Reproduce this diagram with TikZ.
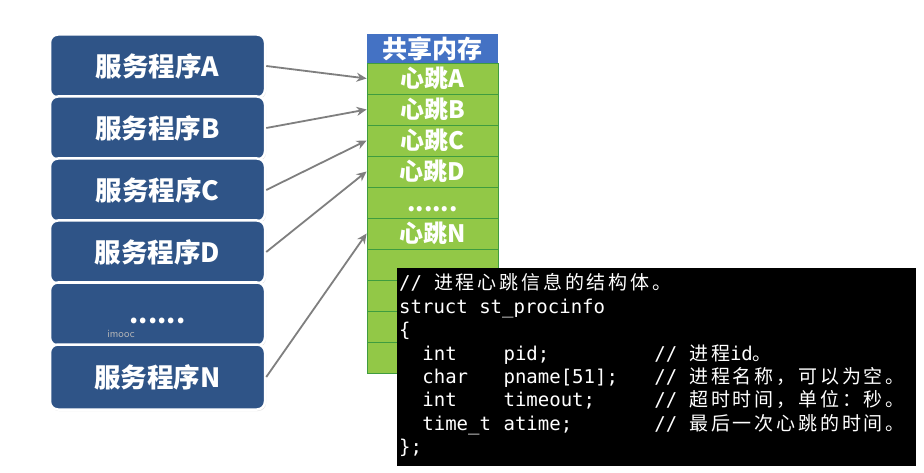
\documentclass[tikz,border=0pt]{standalone}
\usepackage{fontspec}
\usetikzlibrary{arrows.meta,shadows}
\newfontfamily\cjk{Noto Sans CJK SC}
\newfontfamily\cjkc[LetterSpace=15]{Noto Sans CJK SC}
\newfontfamily\mono{DejaVu Sans Mono}
\definecolor{boxblue}{HTML}{2F5487}
\definecolor{headblue}{HTML}{4472C4}
\definecolor{cellgreen}{HTML}{92C847}
\definecolor{cellline}{HTML}{3F9C3F}
\definecolor{arrgray}{HTML}{7F7F7F}
\newlength\cw \setlength\cw{11.6pt}
\newcommand\tok[2]{\makebox[#1\cw][l]{#2}}
\newcommand\cz[1]{{\cjkc #1}}
\begin{document}
\begin{tikzpicture}[x=1pt,y=-1pt,
  svc/.style={draw=white, line width=2.5pt, fill=boxblue, rounded corners=8pt,
    minimum width=215pt, minimum height=63pt, inner sep=0pt, text=white,
    font=\cjk\bfseries\fontsize{26.5}{30}\selectfont,
    drop shadow={shadow xshift=1pt, shadow yshift=-1.5pt, opacity=0.25}},
  cell/.style={draw=cellline, line width=0.8pt, fill=cellgreen, minimum width=131pt,
    minimum height=31pt, inner sep=0pt, text=white,
    font=\cjk\bfseries\fontsize{24}{26}\selectfont},
  head/.style={fill=headblue, minimum width=131pt, minimum height=29pt, inner sep=0pt,
    text=white, font=\cjk\bfseries\fontsize{25}{27}\selectfont},
  arr/.style={draw=arrgray, line width=1.8pt, -{Stealth[length=10pt,width=9pt]}},
  code/.style={anchor=base west, inner sep=0pt, text=white,
    font=\mono\fontsize{19}{21}\selectfont}
]
\useasboundingbox (0,0) rectangle (924,473);
\fill[white] (0,0) rectangle (924,473);

% service boxes
\node[svc] (sa) at (157.5,66) {服务程序A};
\node[svc] (sb) at (157.5,128) {服务程序B};
\node[svc] (sc) at (157.5,190) {服务程序C};
\node[svc] (sd) at (157.5,252) {服务程序D};
\node[svc] (se) at (157.5,314) {\vphantom{服}......};
\node[svc, minimum height=65pt] (sn) at (157.5,377) {服务程序N};
\node[text=gray!55, font=\fontsize{11}{12}\sffamily\selectfont, inner sep=0pt] (wm) at (121,334) {imooc};

% shared memory
\node[head] (mh) at (432.5,48.5) {共享内存};
\node[cell] (m1) at (432.5,78.5) {心跳A};
\node[cell] (m2) at (432.5,109.5) {心跳B};
\node[cell] (m3) at (432.5,140.5) {心跳C};
\node[cell] (m4) at (432.5,171.5) {心跳D};
\node[cell] (m5) at (432.5,202.5) {\vphantom{心}......};
\node[cell] (m6) at (432.5,233.5) {心跳N};
\node[cell] (m7) at (432.5,264.5) {};
\node[cell] (m8) at (432.5,295.5) {};
\node[cell] (m9) at (432.5,326.5) {};
\node[cell] (m10) at (432.5,357.5) {};

% arrows
\draw[arr] (sa.east) -- (m1.west);
\draw[arr] (sb.east) -- (m2.west);
\draw[arr] (sc.east) -- (m3.west);
\draw[arr] (sd.east) -- (m4.west);
\draw[arr] (sn.east) -- (m6.west);

% code box
\fill[black] (397,268) rectangle (916,466);
\node[code] (c1) at (399,290) {\tok{3}{//}\cz{进程心跳信息的结构体。}};
\node[code] (c2) at (399,313.3) {struct st\_procinfo};
\node[code] (c3) at (399,336.6) {\{};
\node[code] (c4) at (399,360) {\tok{2}{}\tok{7}{int}\tok{13}{pid;}\tok{3}{//}\cz{进程}id\cz{。}};
\node[code] (c5) at (399,383.3) {\tok{2}{}\tok{7}{char}\tok{13}{pname[51];}\tok{3}{//}\cz{进程名称，可以为空。}};
\node[code] (c6) at (399,406.6) {\tok{2}{}\tok{7}{int}\tok{13}{timeout;}\tok{3}{//}\cz{超时时间，单位：秒。}};
\node[code] (c7) at (399,430) {\tok{2}{}\tok{7}{time\_t}\tok{13}{atime;}\tok{3}{//}\cz{最后一次心跳的时间。}};
\node[code] (c8) at (399,453) {\};};
\end{tikzpicture}
\end{document}
